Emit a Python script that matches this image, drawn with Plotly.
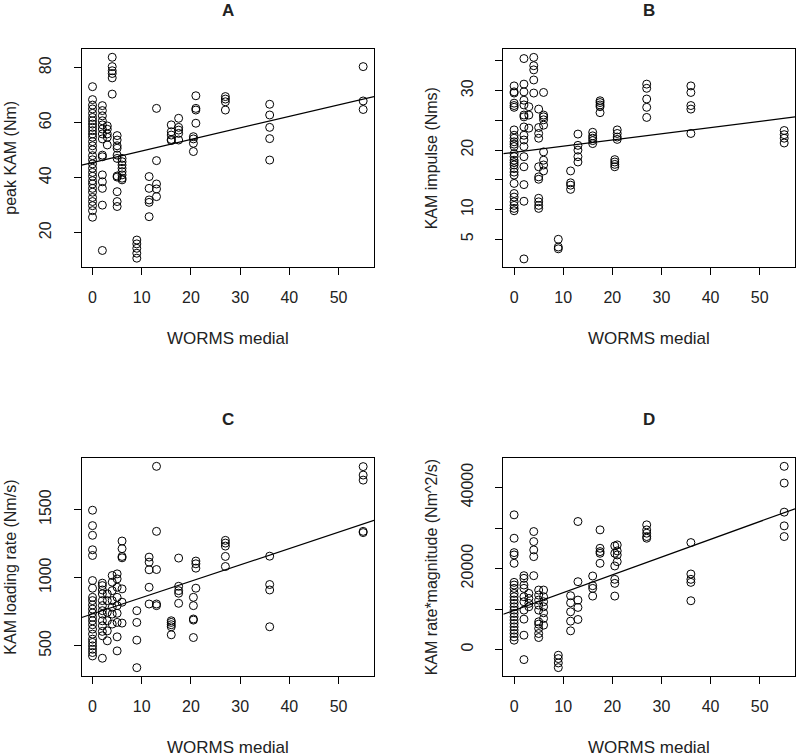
import plotly.graph_objects as go

FONT = "Liberation Sans, Arial, sans-serif"

# ---------------- data ----------------
worms_levels = [0, 2, 3, 4, 5, 6, 9, 11.5, 13, 16, 17.5, 20.5, 21, 27, 36, 55]

# Panel A: peak KAM (Nm)
peak_kam = {
    0: [73.1, 68.4, 66.4, 65.0, 63.4, 61.9, 60.7, 59.5, 58.3, 57.1, 55.9, 54.7, 53.1, 51.6, 50.1,
        48.0, 46.5, 45.0, 43.4, 41.9, 40.5, 38.9, 37.7, 36.1, 34.7, 32.8, 31.3, 29.8, 28.0, 25.6],
    2: [66.2, 64.4, 62.5, 60.7, 59.2, 57.7, 55.9, 54.1, 48.2, 47.6, 41.0, 38.5, 36.1, 30.0, 13.5],
    3: [58.8, 57.6, 55.9, 54.7, 51.9],
    4: [83.8, 80.4, 78.9, 77.9, 76.3, 70.4],
    5: [55.3, 53.7, 51.6, 50.7, 48.2, 47.0, 40.6, 40.2, 34.9, 31.3, 29.5],
    6: [47.0, 45.8, 44.6, 43.4, 42.2, 41.0, 39.8, 39.2],
    9: [17.3, 15.9, 14.3, 12.5, 10.7],
    11.5: [40.4, 36.1, 31.9, 31.0, 25.8],
    13: [65.2, 46.2, 37.7, 35.9, 33.1],
    16: [59.2, 56.7, 55.5, 53.9, 53.5],
    17.5: [61.6, 58.3, 57.3, 56.1, 53.7],
    20.5: [54.9, 54.1, 52.5, 49.5],
    21: [69.8, 65.2, 64.6, 59.8],
    27: [69.5, 68.6, 67.6, 64.6],
    36: [66.7, 62.8, 58.3, 54.2, 46.4],
    55: [80.4, 67.9, 64.8],
}

# Panel B: KAM impulse (Nms)
kam_impulse = {
    0: [30.8, 29.8, 29.6, 27.9, 27.5, 27.2, 23.4, 22.5, 22.0, 21.4, 21.0, 20.6, 19.4, 18.9, 18.3,
        17.9, 17.5, 16.9, 16.3, 15.8, 14.4, 12.7, 12.1, 11.3, 10.7, 10.2, 9.8],
    2: [35.4, 31.1, 29.8, 28.4, 27.6, 25.9, 25.6, 23.9, 22.5, 21.7, 20.6, 18.9, 17.2, 14.2, 11.4, 1.7],
    3: [27.3, 25.9, 23.7],
    4: [35.6, 34.2, 33.5, 31.8, 29.6],
    5: [26.9, 23.8, 22.8, 22.0, 17.2, 15.5, 15.1, 11.9, 11.3, 10.7, 10.2],
    6: [29.7, 25.9, 25.6, 25.1, 24.2, 19.7, 18.3, 17.5, 16.5],
    9: [5.0, 3.7, 3.4],
    11.5: [16.5, 14.5, 14.1, 13.4],
    13: [22.7, 20.8, 20.0, 18.9, 18.0],
    16: [23.0, 22.4, 22.0, 21.6, 21.1],
    17.5: [28.3, 28.0, 27.6, 27.3, 26.3],
    20.5: [18.4, 18.0, 17.6, 17.2],
    21: [23.4, 22.8, 22.2, 21.8],
    27: [31.1, 30.4, 28.6, 27.2, 25.5],
    36: [30.8, 29.7, 27.5, 26.9, 22.8],
    55: [23.3, 22.6, 22.0, 21.2],
}

# Panel C: KAM loading rate (Nm/s)
kam_loading = {
    0: [1495, 1382, 1311, 1205, 1163, 979, 923, 856, 832, 800, 770, 741, 709, 684, 655, 623, 586,
        549, 525, 500, 475, 451, 426],
    2: [960, 942, 910, 881, 832, 795, 758, 733, 684, 647, 606, 574, 409],
    3: [881, 832, 746, 684, 610, 537],
    4: [1016, 967, 905, 832, 783, 733, 660],
    5: [1028, 991, 930, 856, 795, 739, 672, 566, 463],
    6: [1269, 1213, 1156, 1146, 918, 820, 667],
    9: [758, 672, 542, 340],
    11.5: [1151, 1114, 1058, 930, 807],
    13: [1817, 1340, 1060, 807, 795],
    16: [684, 672, 655, 640, 581],
    17.5: [1144, 937, 905, 886, 812],
    20.5: [856, 795, 697, 689, 561],
    21: [1122, 1102, 1070, 923],
    27: [1274, 1254, 1232, 1156, 1082],
    36: [1158, 950, 910, 640],
    55: [1815, 1753, 1716, 1340, 1331],
}

# Panel D: KAM rate*magnitude (Nm^2/s)
kam_rate_mag = {
    0: [33250, 27475, 23927, 23350, 21290, 16584, 15924, 15100, 13860, 13036, 12211, 11386, 10561,
        9736, 8911, 8086, 7261, 6436, 5611, 4786, 3960, 3135, 2310],
    2: [18234, 17574, 15924, 15100, 13036, 11799, 9736, 7508, 3547, -2475],
    3: [13860, 12624, 11386, 10561],
    4: [29125, 26650, 24587, 22937, 18234],
    5: [14686, 13449, 12211, 10973, 9736, 6848, 6270, 5198, 3960, 2970],
    6: [14686, 13036, 11799, 10561, 9076, 7673, 6023],
    9: [-1402, -2228, -3300, -4455],
    11.5: [13284, 11551, 9323, 7013, 4620],
    13: [31600, 16749, 12211, 10396, 7426],
    16: [18152, 15759, 15100, 13201],
    17.5: [29538, 25000, 24175, 23762, 21287],
    20.5: [25578, 23762, 20627, 17327, 16337, 13201],
    21: [25825, 24340, 23350, 21700],
    27: [30776, 29538, 28713, 27888, 27475],
    36: [26403, 18647, 17327, 16584, 12046],
    55: [45215, 41089, 33911, 30528, 27888],
}

# fitted regression lines (intercept, slope)
fit_intercepts = [45.5, 19.64, 734, 9684]
fit_slopes = [0.42, 0.104, 12.0, 438]

panel_titles = ["A", "B", "C", "D"]
x_title = "WORMS medial"
y_titles = ["peak KAM (Nm)", "KAM impulse (Nms)", "KAM loading rate (Nm/s)", "KAM rate*magnitude (Nm^2/s)"]

x_ticks = [0, 10, 20, 30, 40, 50]
y_tick_vals = [[20, 40, 60, 80],
               [5, 10, 15, 20, 25, 30, 35],
               [500, 1000, 1500],
               [0, 10000, 20000, 30000, 40000]]
y_tick_text = [["20", "40", "60", "80"],
               ["5", "10", "", "20", "", "30", ""],
               ["500", "1000", "1500"],
               ["0", "", "20000", "", "40000"]]

# ---------------- layout geometry ----------------
W, H = 796, 754
x_range = [-2.2, 57.2]
y_ranges = [[7.6, 86.7], [0.39, 36.96], [281, 1876], [-6450, 47200]]
# panel boxes in pixels: (left, right, top, bottom)
boxes = [(81.7, 374.0, 49.3, 266.7), (503.3, 795.0, 49.3, 266.7),
         (81.7, 374.0, 458.3, 675.7), (503.3, 795.0, 458.3, 675.7)]

datasets = [peak_kam, kam_impulse, kam_loading, kam_rate_mag]

fig = go.Figure()
annotations = []
for i, data in enumerate(datasets):
    n = i + 1
    xa = "x" if n == 1 else f"x{n}"
    ya = "y" if n == 1 else f"y{n}"
    xs, ys = [], []
    for lvl in worms_levels:
        for v in data.get(lvl, []):
            xs.append(lvl)
            ys.append(v)
    fig.add_trace(go.Scatter(
        x=xs, y=ys, mode="markers", xaxis=xa, yaxis=ya, showlegend=False,
        marker=dict(symbol="circle-open", size=8, color="black", line=dict(width=1, color="black")),
        hoverinfo="x+y"))
    lx = x_range
    ly = [fit_intercepts[i] + fit_slopes[i] * v for v in lx]
    fig.add_trace(go.Scatter(
        x=lx, y=ly, mode="lines", xaxis=xa, yaxis=ya, showlegend=False,
        line=dict(color="black", width=1.2), hoverinfo="skip"))

    l, r, t, b = boxes[i]
    xdom = [l / W, r / W]
    ydom = [1 - b / H, 1 - t / H]
    axis_common = dict(showline=True, mirror=True, linecolor="black", linewidth=1,
                       showgrid=False, zeroline=False, ticks="outside", ticklen=7,
                       tickcolor="black", tickwidth=1,
                       tickfont=dict(family=FONT, size=16, color="#222"))
    fig.layout[f"xaxis{'' if n == 1 else n}"] = dict(
        domain=xdom, range=x_range, tickmode="array", tickvals=x_ticks,
        anchor=ya, ticklabelstandoff=9, **axis_common)
    fig.layout[f"yaxis{'' if n == 1 else n}"] = dict(
        domain=ydom, range=y_ranges[i], tickmode="array", tickvals=y_tick_vals[i],
        ticktext=y_tick_text[i], tickangle=-90, anchor=xa, ticklabelstandoff=16, **axis_common)

    cx = (l + r) / 2
    cy = (t + b) / 2
    annotations.append(dict(text=f"<b>{panel_titles[i]}</b>", x=cx / W, y=1 - (t - 39) / H,
                            xref="paper", yref="paper", showarrow=False,
                            xanchor="center", yanchor="middle",
                            font=dict(family=FONT, size=17, color="#222")))
    annotations.append(dict(text=x_title, x=cx / W, y=1 - (b + 72) / H,
                            xref="paper", yref="paper", showarrow=False,
                            xanchor="center", yanchor="middle",
                            font=dict(family=FONT, size=17, color="#222")))
    annotations.append(dict(text=y_titles[i], x=(l - 72) / W, y=1 - cy / H,
                            xref="paper", yref="paper", showarrow=False, textangle=-90,
                            xanchor="center", yanchor="middle",
                            font=dict(family=FONT, size=16, color="#222")))

fig.update_layout(width=W, height=H, margin=dict(l=0, r=0, t=0, b=0),
                  paper_bgcolor="white", plot_bgcolor="white",
                  annotations=annotations, showlegend=False)

fig.write_html("out.html", config={"displayModeBar": False},
               post_script="document.body.style.margin='0';document.body.style.overflow='hidden';")
